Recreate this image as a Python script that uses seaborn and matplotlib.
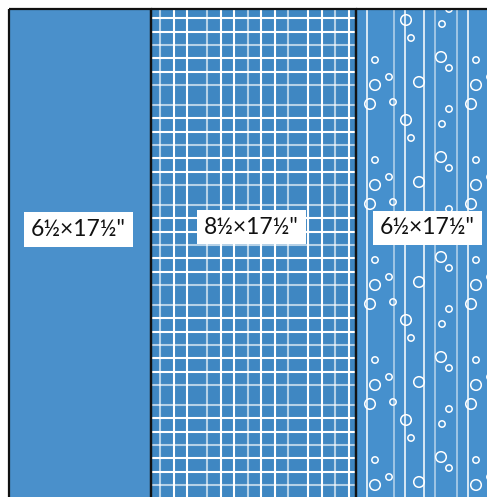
import numpy as np
import pandas as pd
import matplotlib
matplotlib.use("Agg")
import matplotlib.pyplot as plt
import seaborn as sns

# ---------------- data ----------------
panel_labels = ['6½×17½"', '8½×17½"', '6½×17½"']
panel_fabric = ["solid", "grid", "bubbles"]
panel_widths = [142, 205, 142]          # drawn widths (picture units)
panel_colors = ["#4a90cb", "#3f87c2", "#4690cd"]

# grid fabric: one 101 x 100 repeat tile
grid_col_offsets = [10, 24, 37.5, 51, 64.5, 78, 91]
grid_row_offsets = [5, 18.3, 31.7, 45, 58.3, 71.7, 85]
grid_row_light = [True, False, False, True, False, False, True]

# bubble fabric: stripes and one 100-unit repeat of bubbles
stripe_x = [366.7, 393.7, 405, 423.7, 434.7, 456.7, 468]
stripe_light = [False, True, False, False, True, True, False]
bubble_x = [375, 441, 449, 476, 389, 375, 419, 476, 370, 393, 471, 449, 406, 442, 411, 490]
bubble_y = [60, 57, 68, 60, 77, 85, 82, 85, 4, 2, 4, 9, 20, 24, 38, 77]
bubble_big = [0, 1, 0, 0, 0, 1, 1, 1, 1, 0, 1, 0, 1, 0, 0, 0]

# ---------------- layout ----------------
W, H = 487, 497
LEFT, TOP, BAR_H = 9, 9, 600
TILE_X0, TILE_W, TILE_H = 95.7, 101, 100
WHITE = (1, 1, 1, 1)
LIGHT = (1, 1, 1, 0.62)

sns.set_theme(style="white")
plt.rcParams["font.family"] = ["Lato", "DejaVu Sans"]

fig = plt.figure(figsize=(W / 100, H / 100), dpi=100)
ax = fig.add_axes([0, 0, 1, 1])
ax.set_xlim(0, W)
ax.set_ylim(H, 0)
ax.axis("off")

lefts = LEFT + np.concatenate([[0], np.cumsum(panel_widths)[:-1]])
bars = ax.bar(lefts, [BAR_H] * 3, width=panel_widths, bottom=TOP, align="edge",
              color=panel_colors, edgecolor="none", zorder=1)

for i, fab in enumerate(panel_fabric):
    x0, x1 = lefts[i], lefts[i] + panel_widths[i]
    clip = bars.patches[i]
    if fab == "grid":
        cols = []
        for k in range(-1, 4):
            for off in grid_col_offsets:
                x = TILE_X0 + k * TILE_W + off
                if x0 + 2 < x < x1 - 2:
                    cols.append(x)
        ccol = [LIGHT if j % 3 == 0 else WHITE for j in range(len(cols))]
        vl = ax.vlines(cols, TOP, H + 5, colors=ccol, linewidth=1.5, zorder=2)
        vl.set_clip_path(clip)
        rows, rcol = [], []
        for k in range(0, 6):
            for off, lt in zip(grid_row_offsets, grid_row_light):
                y = k * TILE_H + off
                if TOP < y < H + 5:
                    rows.append(y)
                    rcol.append(LIGHT if lt else WHITE)
        hl = ax.hlines(rows, x0, x1, colors=rcol, linewidth=1.5, zorder=2)
        hl.set_clip_path(clip)
    elif fab == "bubbles":
        sl = ax.vlines(stripe_x, TOP, H + 5,
                       colors=[LIGHT if l else WHITE for l in stripe_light],
                       linewidth=1.1, zorder=2)
        sl.set_clip_path(clip)
        reps = []
        for k in range(0, 6):
            for bx, by, bb in zip(bubble_x, bubble_y, bubble_big):
                reps.append((bx, by + k * TILE_H, "big" if bb else "small"))
        df = pd.DataFrame(reps, columns=["x", "y", "size"])
        n_before = len(ax.collections)
        sns.scatterplot(data=df, x="x", y="y", size="size",
                        sizes={"small": 21, "big": 58}, marker="o",
                        facecolor="none", edgecolor="white", linewidth=1.1,
                        legend=False, ax=ax, zorder=3)
        for coll in ax.collections[n_before:]:
            coll.set_clip_path(clip)
        ax.set_xlim(0, W)
        ax.set_ylim(H, 0)
        ax.axis("off")

# outlines of the panels
ax.bar(lefts, [BAR_H] * 3, width=panel_widths, bottom=TOP, align="edge",
       color="none", edgecolor="#111111", linewidth=1.6, zorder=5)

label_y = [229.5, 227, 228]
label_dx = [-1.5, -2, 0.5]
for i, lab in enumerate(panel_labels):
    cx = lefts[i] + panel_widths[i] / 2
    ax.text(cx + label_dx[i], label_y[i], lab, ha="center", va="center", fontsize=16.5,
            color="#111111", zorder=6,
            bbox=dict(boxstyle="square,pad=0.3", fc="white", ec="none"))

fig.savefig("out.png", dpi=100)
